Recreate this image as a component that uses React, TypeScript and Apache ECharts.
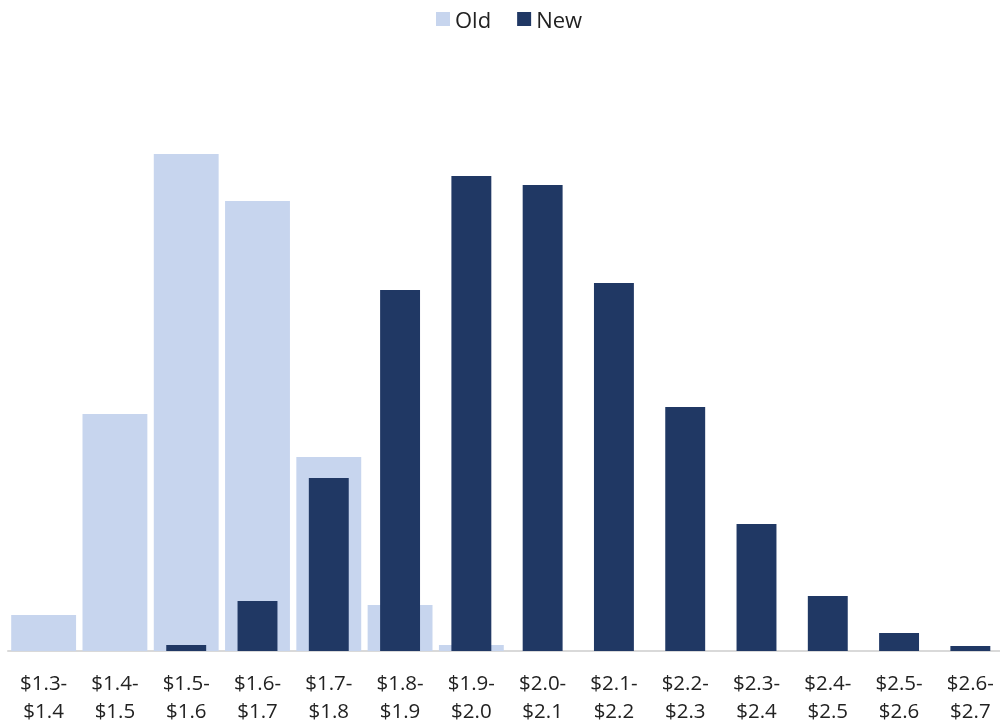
import React, { useEffect, useRef } from "react";
import * as echarts from "echarts";

const categories = [
  "$1.3-\n$1.4", "$1.4-\n$1.5", "$1.5-\n$1.6", "$1.6-\n$1.7", "$1.7-\n$1.8",
  "$1.8-\n$1.9", "$1.9-\n$2.0", "$2.0-\n$2.1", "$2.1-\n$2.2", "$2.2-\n$2.3",
  "$2.3-\n$2.4", "$2.4-\n$2.5", "$2.5-\n$2.6", "$2.6-\n$2.7",
];
const oldValues = [36, 237, 497, 450, 194, 46, 6, 0, 0, 0, 0, 0, 0, 0];
const newValues = [0, 0, 6, 50, 173, 361, 475, 466, 368, 244, 127, 55, 18, 5];

export default function App() {
  const ref = useRef<HTMLDivElement>(null);
  useEffect(() => {
    const chart = echarts.init(ref.current!, null, { renderer: "svg" });
    chart.setOption({
      animation: false,
      textStyle: { fontFamily: "Open Sans" },
      legend: {
        top: 3,
        left: 431,
        itemWidth: 14,
        itemHeight: 14,
        itemGap: 26,
        icon: "rect",
        textStyle: { fontSize: 22, color: "#222", fontFamily: "Open Sans" },
        data: ["Old", "New"],
      },
      grid: { left: 8, right: 0, top: 60, bottom: 75, containLabel: false },
      xAxis: [
        {
          type: "category",
          data: categories,
          axisLine: { lineStyle: { color: "#d9d9d9", width: 2 } },
          axisTick: { show: false },
          axisLabel: {
            fontSize: 20.5,
            lineHeight: 28,
            color: "#222",
            margin: 17,
            interval: 0,
            fontFamily: "Open Sans",
          },
        },
        {
          type: "category",
          data: categories,
          show: false,
          position: "bottom",
        },
      ],
      yAxis: {
        type: "value",
        min: 0,
        max: 591,
        show: false,
        splitLine: { show: false },
      },
      series: [
        {
          name: "Old",
          type: "bar",
          xAxisIndex: 0,
          data: oldValues,
          barWidth: "91%",
          itemStyle: { color: "#C7D5EE" },
        },
        {
          name: "New",
          type: "bar",
          xAxisIndex: 1,
          data: newValues,
          barWidth: "56%",
          itemStyle: { color: "#203864" },
        },
      ],
    });
    return () => chart.dispose();
  }, []);
  return (
    <div style={{ position: "fixed", left: 0, top: 0, width: 1000, height: 726, overflow: "hidden" }}>
      <div ref={ref} style={{ width: 1006, height: 726 }} />
    </div>
  );
}
